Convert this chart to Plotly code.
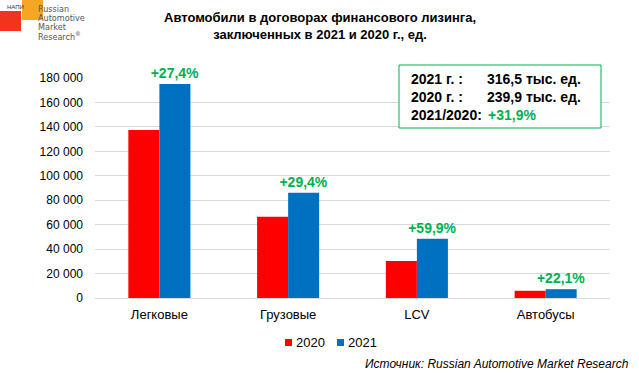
import plotly.graph_objects as go

categories = ["Легковые", "Грузовые", "LCV", "Автобусы"]
values_2020 = [137400, 66500, 30300, 5900]
values_2021 = [175100, 86100, 48400, 7200]
growth_labels = ["+27,4%", "+29,4%", "+59,9%", "+22,1%"]
series_names = ["2020", "2021"]
y_ticks = [0, 20000, 40000, 60000, 80000, 100000, 120000, 140000, 160000, 180000]

FONT = "Liberation Sans, Arial, sans-serif"
GREEN = "#00B050"
RED = "#FF0000"
BLUE = "#0070C0"

L, R, T, B = 95, 29, 78, 75
PW, PH = 639 - L - R, 373 - T - B


def px(x):
    return (x - L) / PW


def py(y):
    return (373 - B - y) / PH


fig = go.Figure()
fig.add_trace(go.Bar(x=categories, y=values_2020, name=series_names[0],
                     marker=dict(color=RED, line=dict(width=0))))
fig.add_trace(go.Bar(x=categories, y=values_2021, name=series_names[1],
                     marker=dict(color=BLUE, line=dict(width=0)),
                     text=growth_labels, textposition="outside", constraintext="none",
                     textfont=dict(family=FONT, size=14, color=GREEN, weight="bold"),
                     cliponaxis=False))

fig.update_layout(
    width=639, height=373,
    margin=dict(l=L, r=R, t=T, b=B, autoexpand=False),
    paper_bgcolor="white", plot_bgcolor="white",
    separators=", ",
    barmode="group", bargap=0.518, bargroupgap=0,
    font=dict(family=FONT, size=12, color="#000000"),
    showlegend=False,
    xaxis=dict(showline=True, linecolor="#d9d9d9", linewidth=1, ticks="",
               ticklabelstandoff=4,
               tickfont=dict(size=13, family=FONT), fixedrange=True),
    yaxis=dict(range=[0, 180000], tickvals=y_ticks, tickformat=",d",
               showgrid=True, gridcolor="#d9d9d9", gridwidth=1, zeroline=False,
               showline=False, ticks="", ticklabelstandoff=11,
               tickfont=dict(size=12, family=FONT)),
)

# Legend (drawn manually to match compact square markers)
leg = [(285, series_names[0], RED), (337, series_names[1], BLUE)]
for x0, name, col in leg:
    fig.add_shape(type="rect", xref="paper", yref="paper",
                  x0=px(x0), x1=px(x0 + 7), y0=py(346), y1=py(339),
                  line=dict(width=0), fillcolor=col)
    fig.add_annotation(xref="paper", yref="paper", x=px(x0 + 9), y=py(342),
                       xanchor="left", yanchor="middle", showarrow=False, text=name,
                       font=dict(size=13, family=FONT, color="#000"))

# Title
fig.add_annotation(xref="paper", yref="paper", x=px(320), y=py(26),
                   xanchor="center", yanchor="middle",
                   text="<b>Автомобили в договорах финансового лизинга,<br>заключенных в 2021 и 2020 г., ед.</b>",
                   showarrow=False, font=dict(size=13, family=FONT), align="center")

# Summary box
fig.add_shape(type="rect", xref="paper", yref="paper",
              x0=px(399), x1=px(601), y0=py(128), y1=py(65),
              line=dict(color=GREEN, width=1), fillcolor="white")
box_left = ["2021 г. :", "2020 г. :", "2021/2020:"]
box_right = ["316,5 тыс. ед.", "239,9 тыс. ед.", "+31,9%"]
box_y = [79, 97, 115]
for i in range(3):
    fig.add_annotation(xref="paper", yref="paper", x=px(409), y=py(box_y[i]),
                       xanchor="left", yanchor="middle", showarrow=False,
                       text="<b>" + box_left[i] + "</b>", font=dict(size=14, family=FONT, color="#000"))
for i in range(2):
    fig.add_annotation(xref="paper", yref="paper", x=px(485), y=py(box_y[i]),
                       xanchor="left", yanchor="middle", showarrow=False,
                       text="<b>" + box_right[i] + "</b>", font=dict(size=14, family=FONT, color="#000"))
fig.add_annotation(xref="paper", yref="paper", x=px(486), y=py(box_y[2]),
                   xanchor="left", yanchor="middle", showarrow=False,
                   text="<b>" + box_right[2] + "</b>", font=dict(size=14, family=FONT, color=GREEN))

# Source
fig.add_annotation(xref="paper", yref="paper", x=px(631), y=py(364),
                   xanchor="right", yanchor="middle", showarrow=False,
                   text="<i>Источник: Russian Automotive Market Research</i>",
                   font=dict(size=12, family=FONT, color="#000"))

# Logo
fig.add_shape(type="rect", xref="paper", yref="paper",
              x0=px(22), x1=px(43), y0=py(20), y1=py(0),
              line=dict(width=0), fillcolor="#F5A623")
fig.add_shape(type="rect", xref="paper", yref="paper",
              x0=px(0), x1=px(21), y0=py(31), y1=py(11),
              line=dict(width=0), fillcolor="#F0341E")
fig.add_annotation(xref="paper", yref="paper", x=px(5), y=py(7),
                   xanchor="left", yanchor="middle", showarrow=False, text="НАПИ",
                   font=dict(size=6, family=FONT, color="#333"))
logo_lines = ["Russian", "Automotive", "Market", "Research<sup>®</sup>"]
for i, t in enumerate(logo_lines):
    fig.add_annotation(xref="paper", yref="paper", x=px(36), y=py(9 + 9 * i),
                       xanchor="left", yanchor="middle", showarrow=False, text=t,
                       font=dict(size=9, family="Liberation Sans Narrow, DejaVu Sans Condensed, sans-serif", color="#555"))

fig.write_html("out.html", config={"displayModeBar": False},
               post_script="document.body.style.margin='0';document.body.style.padding='0';")
